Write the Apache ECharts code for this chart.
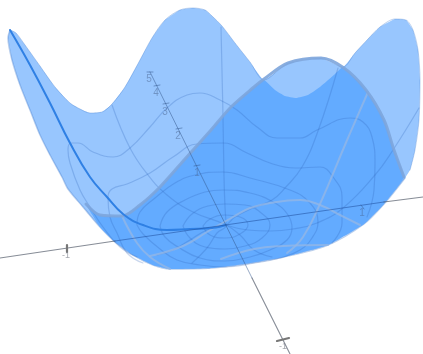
<!DOCTYPE html>
<html><head><meta charset="utf-8">
<style>html,body{margin:0;padding:0;background:#fff}#c{width:423px;height:354px}</style>
<script src="https://cdn.jsdelivr.net/npm/echarts@6/dist/echarts.min.js"></script>
</head><body><div id="c"></div>
<script>
// Traced outlines of the projected surface (chart units)
const silhouette=[[10,30],[16,33],[25,45],[40,66],[55,87],[70,103],[80,109],[90,113],[102,112],[112,104],[125,87],[140,60],[152,38],[165,20],[180,10],[193,8],[205,10],[212,16],[222,26],[235,43],[250,62],[264,80],[288,63],[321,58],[343,67],[355,53],[368,39],[380,27],[395,19],[406,20],[413,30],[418,50],[420,80],[419,120],[415,150],[410,170],[405,178],[384,204],[364,224],[328,245],[284,257],[244,264],[212,268],[170,269],[153,265],[133,255],[115,242],[100,227],[83,207],[68,189],[62,177],[50,155],[40,135],[30,110],[20,85],[12,60],[8,38]];
const frontSheet=[[86,204],[100,215],[122,216],[140,205],[160,187],[185,159],[211,130],[231,107],[254,87],[264,80],[275,90],[285,96],[296,98],[308,95],[320,87],[335,74],[343,67],[366,90],[384,120],[394,150],[404,177],[384,204],[364,224],[328,245],[284,257],[244,264],[212,268],[170,269],[153,265],[133,255],[115,242],[100,227]];
const rim=[[86,204],[100,215],[122,216],[140,205],[160,187],[185,159],[211,130],[231,107],[254,87],[264,79],[288,63],[321,58],[344,68],[366,90],[384,120],[394,150],[404,177]];
const heavyCurve=[[10,30],[30,65],[50,103],[70,143],[90,177],[107,197],[123,214],[143,225],[167,230],[190,229],[212,228],[226,225]];
const paleLines=[
 [[368,92],[345,145],[320,204],[303,237],[287,253]],
 [[122,216],[137,243],[150,257],[170,269]],
 [[150,256],[183,246],[207,232],[233,217],[250,208],[270,203],[300,200],[320,205],[340,215],[360,225]],
 [[221,259],[254,249],[283,246],[328,245]]
];
const rings=[
 [[203,226],[210,219],[225,215],[240,217],[248,225],[240,234],[225,238],[210,235],[203,226]],
 [[183,226],[192,214],[208,206],[225,204],[245,205],[260,212],[270,225],[262,238],[245,246],[225,249],[205,247],[190,238],[183,226]],
 [[160,226],[167,212],[185,200],[205,192],[223,190],[250,193],[275,203],[288,215],[292,228],[287,240],[270,250],[250,257],[225,261],[200,258],[178,247],[165,237],[160,226]],
 [[137,225],[140,212],[155,198],[175,183],[195,175],[223,172],[250,178],[290,190],[310,203],[318,222],[312,238],[300,250],[280,258],[255,263],[225,267],[200,265],[177,260],[160,249],[143,234],[137,225]],
 [[143,263],[127,253],[117,233],[110,217],[108,197],[112,189],[127,184],[150,173],[173,157],[197,144],[223,143],[247,153],[270,163],[295,168],[320,167],[333,177],[342,197],[342,223],[332,243]],
 [[137,257],[120,247],[103,227],[90,207],[80,190],[70,163],[68,150],[71,143],[78,143],[93,152],[113,157],[130,148],[150,127],[167,108],[187,95],[200,93],[220,100],[237,110],[257,127],[277,138],[300,138],[317,130],[350,118],[363,122],[372,137],[375,163],[374,190],[367,217]]
];
const spokes=[
 [[112,105],[130,148],[148,175],[167,195],[193,212],[226,225],[240,235],[254,250],[272,257]],
 [[221,27],[223,117],[224,177],[225,207],[226,225],[217,233],[207,248],[192,263]],
 [[338,68],[318,131],[302,167],[285,188],[272,200],[253,208],[235,217],[226,225],[207,230],[190,240],[173,250],[157,255]],
 [[419,108],[393,150],[375,175],[343,208],[317,223],[293,229],[270,231],[248,230],[226,225]]
];
const axisXOutside=[[[0,258],[115,241]],[[384,202],[423,197]]];
const axisXInside=[[115,241],[384,202]];
const axisZOutside=[[252,278],[290,354]];
const axisZInside=[[150,72],[252,278]];
const tickMarks=[[[147,72],[153,72]],[[154,86],[160,85]],[[163,104],[169,103]],[[176,129],[182,128]],[[194,166],[200,165]],[[361,205],[364,209]]];
const heavyTicks=[[[277,341],[289,338]],[[67,245],[67,252]]];
const axisLabels=[[149,79,'5'],[156,93,'4'],[165,112,'3'],[178,136,'2'],[197,173,'1'],[362,213,'1']];
const farLabels=[[66,256,'-1'],[283,347,'-1']];

const poly=(pts,fill,z)=>({type:'custom',coordinateSystem:'cartesian2d',silent:true,z,clip:false,
  data:pts.map(p=>p),encode:{x:0,y:1},
  renderItem:(params,api)=>{
    if(params.dataIndex!==0) return null;
    return {type:'polygon',shape:{points:pts.map(p=>api.coord(p)),smooth:0.12},style:{fill,stroke:'none'}};
  }});
const line=(pts,color,width,z,smooth=0.45)=>({type:'line',data:pts,smooth,showSymbol:false,silent:true,z,
  lineStyle:{color,width,cap:'round',join:'round'},animation:false});
const labels=(rows,color,size)=>({type:'scatter',data:rows,symbolSize:0,silent:true,z:9,
  label:{show:true,position:'inside',formatter:p=>p.value[2],color,fontSize:size,fontFamily:'Liberation Sans'}});

const series=[
 poly(silhouette,'#98c6fe',1),
 line(silhouette.slice(36).concat([silhouette[0]]),'rgba(70,125,205,0.38)',1.5,2,0.3),
 line(silhouette.slice(0,36),'rgba(70,125,205,0.35)',1,2,0.3),
 poly(frontSheet,'#63abff',3),
 ...spokes.map(s=>line(s,'rgba(45,100,185,0.26)',1.2,4)),
 ...rings.map(s=>line(s,'rgba(45,100,185,0.26)',1.2,4)),
 ...paleLines.map(s=>line(s,'rgba(150,183,228,0.75)',2,5)),
 line(rim,'rgba(125,165,220,0.9)',3,6,0.3),
 line(heavyCurve,'#2f80e4',2,7),
 line(axisXInside,'rgba(35,85,165,0.6)',1,8,false),
 line(axisZInside,'rgba(50,85,140,0.5)',1,8,false),
 ...axisXOutside.map(a=>line(a,'rgba(60,70,85,0.62)',1.1,8,false)),
 line(axisZOutside,'rgba(60,70,85,0.62)',1.1,8,false),
 ...tickMarks.map(t=>line(t,'rgba(50,85,140,0.5)',1,8,false)),
 ...heavyTicks.map(t=>line(t,'#777',2.2,8,false)),
 labels(axisLabels,'rgba(70,95,135,0.6)',10),
 labels(farLabels,'rgba(120,125,135,0.85)',9)
];
const chart=echarts.init(document.getElementById('c'),null,{renderer:'canvas'});
chart.setOption({animation:false,backgroundColor:'#fff',
 grid:{left:0,right:0,top:0,bottom:0},
 xAxis:{type:'value',min:0,max:423,show:false},
 yAxis:{type:'value',min:0,max:354,inverse:true,show:false},
 series});
</script></body></html>
